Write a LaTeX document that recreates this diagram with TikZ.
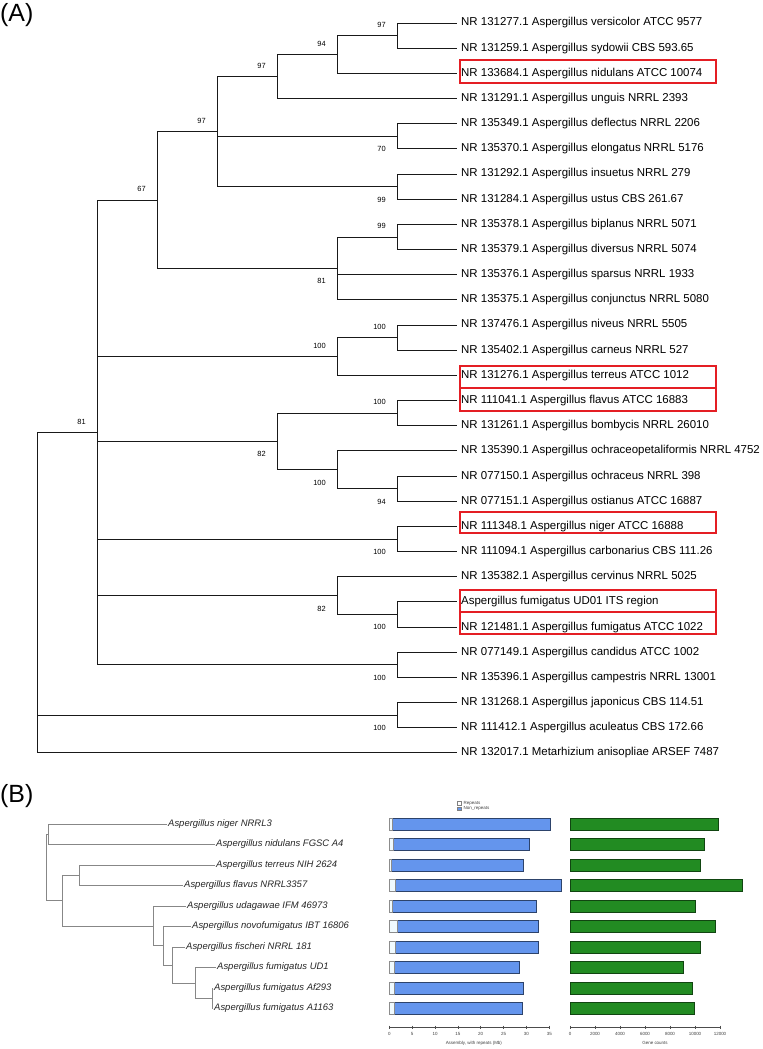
\documentclass[tikz,border=0pt]{standalone}
\usepackage{fontspec}
\setmainfont{Liberation Sans}
\usepackage{tikz}
\usetikzlibrary{positioning}
\definecolor{boxred}{RGB}{228,30,36}
\definecolor{barblue}{RGB}{100,149,237}
\definecolor{bargreen}{RGB}{34,139,34}
\definecolor{treegray}{RGB}{135,135,135}

\begin{document}
\begin{tikzpicture}[x=1bp, y=-1bp,
        branch/.style={line width=1bp, black!90},
        taxon/.style={anchor=west, inner xsep=4bp, inner ysep=1bp, font=\fontsize{11.5}{13}\selectfont},
        boot/.style={inner sep=0pt, font=\fontsize{7.5}{8}\selectfont},
        bsup/.style={boot, anchor=south east, xshift=-11bp, yshift=8bp},
        bsdown/.style={boot, anchor=north east, xshift=-11bp, yshift=-10bp},
        redbox/.style={draw=boxred, line width=2bp},
        panel/.style={anchor=base west, inner sep=0pt, font=\fontsize{25}{28}\selectfont},
        gbranch/.style={line width=0.8bp, treegray},
        genome/.style={anchor=west, inner xsep=1bp, inner ysep=0pt, font=\fontsize{9.5}{11}\selectfont\itshape, text=black!85},
        rep/.style={fill=white!94!cyan, draw=black!45, line width=0.6bp},
        nonrep/.style={fill=barblue, draw=black!55!barblue, line width=0.6bp},
        genes/.style={fill=bargreen, draw=black!50!bargreen, line width=0.6bp},
        axisline/.style={line width=0.5bp, black!70},
        ticklab/.style={inner sep=0pt, font=\fontsize{4.5}{5}\selectfont, text=black!75},
        legbox/.style={draw=black!50, line width=0.4bp, minimum size=3.5bp, inner sep=0pt},
        ]
        \useasboundingbox (0,0) rectangle (763,1049);

        \node[panel] (labA) at (0,21.5) {(A)};
        \node[panel] (labB) at (0,802) {(B)};

        % (A) ITS tree: taxa
        \node[taxon] (lf1) at (457,23.0) {NR 131277.1 Aspergillus versicolor ATCC 9577};
        \node[taxon] (lf2) at (457,48.2) {NR 131259.1 Aspergillus sydowii CBS 593.65};
        \node[taxon] (lf3) at (457,73.3) {NR 133684.1 Aspergillus nidulans ATCC 10074};
        \node[taxon] (lf4) at (457,98.5) {NR 131291.1 Aspergillus unguis NRRL 2393};
        \node[taxon] (lf5) at (457,123.7) {NR 135349.1 Aspergillus deflectus NRRL 2206};
        \node[taxon] (lf6) at (457,148.9) {NR 135370.1 Aspergillus elongatus NRRL 5176};
        \node[taxon] (lf7) at (457,174.0) {NR 131292.1 Aspergillus insuetus NRRL 279};
        \node[taxon] (lf8) at (457,199.2) {NR 131284.1 Aspergillus ustus CBS 261.67};
        \node[taxon] (lf9) at (457,224.4) {NR 135378.1 Aspergillus biplanus NRRL 5071};
        \node[taxon] (lf10) at (457,249.5) {NR 135379.1 Aspergillus diversus NRRL 5074};
        \node[taxon] (lf11) at (457,274.7) {NR 135376.1 Aspergillus sparsus NRRL 1933};
        \node[taxon] (lf12) at (457,299.9) {NR 135375.1 Aspergillus conjunctus NRRL 5080};
        \node[taxon] (lf13) at (457,325.0) {NR 137476.1 Aspergillus niveus NRRL 5505};
        \node[taxon] (lf14) at (457,350.2) {NR 135402.1 Aspergillus carneus NRRL 527};
        \node[taxon] (lf15) at (457,375.4) {NR 131276.1 Aspergillus terreus ATCC 1012};
        \node[taxon] (lf16) at (457,400.6) {NR 111041.1 Aspergillus flavus ATCC 16883};
        \node[taxon] (lf17) at (457,425.7) {NR 131261.1 Aspergillus bombycis NRRL 26010};
        \node[taxon] (lf18) at (457,450.9) {NR 135390.1 Aspergillus ochraceopetaliformis NRRL 4752};
        \node[taxon] (lf19) at (457,476.1) {NR 077150.1 Aspergillus ochraceus NRRL 398};
        \node[taxon] (lf20) at (457,501.2) {NR 077151.1 Aspergillus ostianus ATCC 16887};
        \node[taxon] (lf21) at (457,526.4) {NR 111348.1 Aspergillus niger ATCC 16888};
        \node[taxon] (lf22) at (457,551.6) {NR 111094.1 Aspergillus carbonarius CBS 111.26};
        \node[taxon] (lf23) at (457,576.8) {NR 135382.1 Aspergillus cervinus NRRL 5025};
        \node[taxon] (lf24) at (457,601.9) {Aspergillus fumigatus UD01 ITS region};
        \node[taxon] (lf25) at (457,627.1) {NR 121481.1 Aspergillus fumigatus ATCC 1022};
        \node[taxon] (lf26) at (457,652.3) {NR 077149.1 Aspergillus candidus ATCC 1002};
        \node[taxon] (lf27) at (457,677.4) {NR 135396.1 Aspergillus campestris NRRL 13001};
        \node[taxon] (lf28) at (457,702.6) {NR 131268.1 Aspergillus japonicus CBS 114.51};
        \node[taxon] (lf29) at (457,727.8) {NR 111412.1 Aspergillus aculeatus CBS 172.66};
        \node[taxon] (lf30) at (457,752.9) {NR 132017.1 Metarhizium anisopliae ARSEF 7487};

        % internal nodes
        \coordinate (p12) at (397,35.6);
        \coordinate (n94) at (337,54.5);
        \coordinate (n97b) at (277,76.5);
        \coordinate (p56) at (397,136.3);
        \coordinate (p78) at (397,186.6);
        \coordinate (n97a) at (217,131.6);
        \coordinate (p910) at (397,237.0);
        \coordinate (n81a) at (337,268.5);
        \coordinate (n67) at (157,200.0);
        \coordinate (p1314) at (397,337.6);
        \coordinate (n100a) at (337,356.5);
        \coordinate (p1617) at (397,413.2);
        \coordinate (p1920) at (397,488.7);
        \coordinate (n100b) at (337,469.8);
        \coordinate (n82a) at (277,441.5);
        \coordinate (p2122) at (397,539.0);
        \coordinate (p2425) at (397,614.5);
        \coordinate (n82b) at (337,595.6);
        \coordinate (p2627) at (397,664.9);
        \coordinate (n81b) at (97,432.5);
        \coordinate (p2829) at (397,715.2);
        \coordinate (root) at (37,592.7);

        \draw[branch] (p12) |- (lf1.west) (p12) |- (lf2.west);
        \draw[branch] (n94) |- (p12) (n94) |- (lf3.west);
        \draw[branch] (n97b) |- (n94) (n97b) |- (lf4.west);
        \draw[branch] (p56) |- (lf5.west) (p56) |- (lf6.west);
        \draw[branch] (p78) |- (lf7.west) (p78) |- (lf8.west);
        \draw[branch] (n97a) |- (n97b) (n97a) |- (p56) (n97a) |- (p78);
        \draw[branch] (p910) |- (lf9.west) (p910) |- (lf10.west);
        \draw[branch] (n81a) |- (p910) (n81a) |- (lf11.west) (n81a) |- (lf12.west);
        \draw[branch] (n67) |- (n97a) (n67) |- (n81a);
        \draw[branch] (p1314) |- (lf13.west) (p1314) |- (lf14.west);
        \draw[branch] (n100a) |- (p1314) (n100a) |- (lf15.west);
        \draw[branch] (p1617) |- (lf16.west) (p1617) |- (lf17.west);
        \draw[branch] (p1920) |- (lf19.west) (p1920) |- (lf20.west);
        \draw[branch] (n100b) |- (lf18.west) (n100b) |- (p1920);
        \draw[branch] (n82a) |- (p1617) (n82a) |- (n100b);
        \draw[branch] (p2122) |- (lf21.west) (p2122) |- (lf22.west);
        \draw[branch] (p2425) |- (lf24.west) (p2425) |- (lf25.west);
        \draw[branch] (n82b) |- (lf23.west) (n82b) |- (p2425);
        \draw[branch] (p2627) |- (lf26.west) (p2627) |- (lf27.west);
        \draw[branch] (n81b) |- (n67) (n81b) |- (n100a) (n81b) |- (n82a)
            (n81b) |- (p2122) (n81b) |- (n82b) (n81b) |- (p2627);
        \draw[branch] (p2829) |- (lf28.west) (p2829) |- (lf29.west);
        \draw[branch] (root) |- (n81b) (root) |- (p2829) (root) |- (lf30.west);

        % bootstrap values
        \node[bsup] (bs1) at (p12) {97};
        \node[bsup] (bs2) at (n94) {94};
        \node[bsup] (bs3) at (n97b) {97};
        \node[bsup] (bs4) at (n97a) {97};
        \node[bsup] (bs5) at (n67) {67};
        \node[bsdown] (bs6) at (p56) {70};
        \node[bsdown] (bs7) at (p78) {99};
        \node[bsup] (bs8) at (p910) {99};
        \node[bsdown] (bs9) at (n81a) {81};
        \node[bsup] (bs10) at (p1314) {100};
        \node[bsup] (bs11) at (n100a) {100};
        \node[bsup] (bs12) at (p1617) {100};
        \node[bsdown] (bs13) at (n82a) {82};
        \node[bsdown] (bs14) at (n100b) {100};
        \node[bsdown] (bs15) at (p1920) {94};
        \node[bsdown] (bs16) at (p2122) {100};
        \node[bsdown] (bs17) at (n82b) {82};
        \node[bsdown] (bs18) at (p2425) {100};
        \node[bsdown] (bs19) at (p2627) {100};
        \node[bsdown] (bs20) at (p2829) {100};
        \node[bsup] (bs21) at (n81b) {81};

        % highlighted taxa
        \draw[redbox] (460,60) rectangle (716,83);
        \draw[redbox] (460,366) rectangle (716,388);
        \draw[redbox] (460,388) rectangle (716,411);
        \draw[redbox] (460,512) rectangle (716,533);
        \draw[redbox] (460,590) rectangle (716,612);
        \draw[redbox] (460,612) rectangle (716,634);

        % (B) genome tree
        \node[genome] (g1) at (167,824) {Aspergillus niger NRRL3};
        \node[genome] (g2) at (215,844.5) {Aspergillus nidulans FGSC A4};
        \node[genome] (g3) at (215,865) {Aspergillus terreus NIH 2624};
        \node[genome] (g4) at (183,885.5) {Aspergillus flavus NRRL3357};
        \node[genome] (g5) at (186,906) {Aspergillus udagawae IFM 46973};
        \node[genome] (g6) at (191,926.5) {Aspergillus novofumigatus IBT 16806};
        \node[genome] (g7) at (185,947) {Aspergillus fischeri NRRL 181};
        \node[genome] (g8) at (216,967.5) {Aspergillus fumigatus UD1};
        \node[genome] (g9) at (213,988) {Aspergillus fumigatus Af293};
        \node[genome] (g10) at (213,1008.5) {Aspergillus fumigatus A1163};

        \coordinate (bNN) at (48,834.25);
        \coordinate (bTF) at (79,875.25);
        \coordinate (bN5) at (212,998.25);
        \coordinate (bN4) at (195,982.9);
        \coordinate (bN3) at (172,964.9);
        \coordinate (bN2) at (163,945.7);
        \coordinate (bFU) at (153,925.9);
        \coordinate (bC2) at (62,900.6);
        \coordinate (bRoot) at (46,867.4);

        \draw[gbranch] (bRoot) |- (bNN) (bRoot) |- (bC2);
        \draw[gbranch] (bNN) |- (g1.west) (bNN) |- (g2.west);
        \draw[gbranch] (bC2) |- (bTF) (bC2) |- (bFU);
        \draw[gbranch] (bTF) |- (g3.west) (bTF) |- (g4.west);
        \draw[gbranch] (bFU) |- (g5.west) (bFU) |- (bN2);
        \draw[gbranch] (bN2) |- (g6.west) (bN2) |- (bN3);
        \draw[gbranch] (bN3) |- (g7.west) (bN3) |- (bN4);
        \draw[gbranch] (bN4) |- (g8.west) (bN4) |- (bN5);
        \draw[gbranch] (bN5) |- (g9.west) (bN5) |- (g10.west);

        % legend
        \node[legbox, fill=white] (lgrep) at (459,803) {};
        \node[legbox, fill=barblue] (lgnon) at (459,808.5) {};
        \node[ticklab, right=2.5bp of lgrep] (lgreptext) {Repeats};
        \node[ticklab, right=2.5bp of lgnon] (lgnontext) {Non\_repeats};

        % assembly size (Mb)
        \begin{scope}[shift={(389.3,0)}, x=4.571bp]
            \draw[nonrep] (0.7,818) rectangle (35.2,830);    \draw[rep] (0,818) rectangle (0.7,830);
            \draw[nonrep] (0.9,838.5) rectangle (30.6,850.5); \draw[rep] (0,838.5) rectangle (0.9,850.5);
            \draw[nonrep] (0.45,859) rectangle (29.4,871);   \draw[rep] (0,859) rectangle (0.45,871);
            \draw[nonrep] (1.3,879.5) rectangle (37.7,891.5); \draw[rep] (0,879.5) rectangle (1.3,891.5);
            \draw[nonrep] (0.65,900) rectangle (32.2,912);   \draw[rep] (0,900) rectangle (0.65,912);
            \draw[nonrep] (1.8,920.5) rectangle (32.5,932.5); \draw[rep] (0,920.5) rectangle (1.8,932.5);
            \draw[nonrep] (1.3,941) rectangle (32.6,953);    \draw[rep] (0,941) rectangle (1.3,953);
            \draw[nonrep] (1.1,961.5) rectangle (28.5,973.5); \draw[rep] (0,961.5) rectangle (1.1,973.5);
            \draw[nonrep] (1.0,982) rectangle (29.4,994);    \draw[rep] (0,982) rectangle (1.0,994);
            \draw[nonrep] (1.0,1002.5) rectangle (29.2,1014.5); \draw[rep] (0,1002.5) rectangle (1.0,1014.5);

            \draw[axisline] (0,1027) -- (35,1027)
                (0,1025.5) -- (0,1028.5) (5,1025.5) -- (5,1028.5) (10,1025.5) -- (10,1028.5)
                (15,1025.5) -- (15,1028.5) (20,1025.5) -- (20,1028.5) (25,1025.5) -- (25,1028.5)
                (30,1025.5) -- (30,1028.5) (35,1025.5) -- (35,1028.5);
            \node[ticklab] (ta0) at (0,1034) {0};
            \node[ticklab] (ta5) at (5,1034) {5};
            \node[ticklab] (ta10) at (10,1034) {10};
            \node[ticklab] (ta15) at (15,1034) {15};
            \node[ticklab] (ta20) at (20,1034) {20};
            \node[ticklab] (ta25) at (25,1034) {25};
            \node[ticklab] (ta30) at (30,1034) {30};
            \node[ticklab] (ta35) at (35,1034) {35};
            \node[ticklab] (asmtitle) at (18.5,1043) {Assembly, with repeats (Mb)};
        \end{scope}

        % gene counts (thousands)
        \begin{scope}[shift={(570,0)}, x=12.5bp]
            \draw[genes] (0,818) rectangle (11.90,830);
            \draw[genes] (0,838.5) rectangle (10.72,850.5);
            \draw[genes] (0,859) rectangle (10.45,871);
            \draw[genes] (0,879.5) rectangle (13.76,891.5);
            \draw[genes] (0,900) rectangle (10.03,912);
            \draw[genes] (0,920.5) rectangle (11.60,932.5);
            \draw[genes] (0,941) rectangle (10.45,953);
            \draw[genes] (0,961.5) rectangle (9.09,973.5);
            \draw[genes] (0,982) rectangle (9.81,994);
            \draw[genes] (0,1002.5) rectangle (9.97,1014.5);

            \draw[axisline] (0,1027) -- (12,1027)
                (0,1025.5) -- (0,1028.5) (2,1025.5) -- (2,1028.5) (4,1025.5) -- (4,1028.5)
                (6,1025.5) -- (6,1028.5) (8,1025.5) -- (8,1028.5) (10,1025.5) -- (10,1028.5)
                (12,1025.5) -- (12,1028.5);
            \node[ticklab] (tg0) at (0,1034) {0};
            \node[ticklab] (tg2) at (2,1034) {2000};
            \node[ticklab] (tg4) at (4,1034) {4000};
            \node[ticklab] (tg6) at (6,1034) {6000};
            \node[ticklab] (tg8) at (8,1034) {8000};
            \node[ticklab] (tg10) at (10,1034) {10000};
            \node[ticklab] (tg12) at (12,1034) {12000};
            \node[ticklab] (gctitle) at (6.8,1043) {Gene counts};
        \end{scope}

\end{tikzpicture}
\end{document}
